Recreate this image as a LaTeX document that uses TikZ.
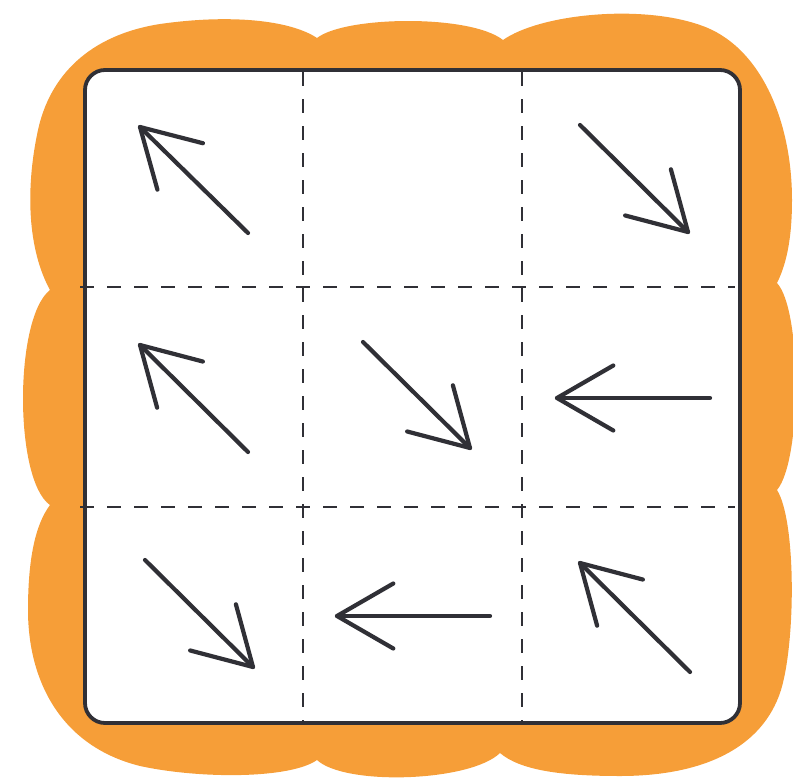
\documentclass[tikz,border=0pt]{standalone}
\usetikzlibrary{calc}
\definecolor{frameorange}{RGB}{246,158,56}
\definecolor{inkgray}{RGB}{48,48,54}
\tikzset{
  gridline/.style={draw=inkgray, line width=2.8pt, dash pattern=on 14pt off 13pt},
  boxborder/.style={draw=inkgray, line width=3.8pt, fill=white, rounded corners=20pt},
  arrowline/.style={draw=inkgray, line width=4.2pt, line cap=round, line join=round},
}
\newcommand{\cellarrow}[2]{%
  \draw[arrowline] ($(#1)!65pt!30:(#2)$) -- (#1) -- ($(#1)!65pt!-30:(#2)$);
  \draw[arrowline] (#1) -- (#2);
}
\begin{document}
\begin{tikzpicture}[x=1pt,y=-1pt]
\useasboundingbox (0,0) rectangle (793,777);
% orange scalloped frame
\fill[frameorange]
  (50,290) .. controls (28,250) and (25,190) .. (38,130)
  .. controls (50,75) and (90,35) .. (160,24)
  .. controls (230,14) and (290,20) .. (317,38)
  .. controls (345,16) and (470,14) .. (503,40)
  .. controls (540,14) and (640,4) .. (700,25)
  .. controls (760,45) and (792,120) .. (792,200)
  .. controls (792,240) and (786,265) .. (777,283)
  .. controls (802,310) and (802,460) .. (777,490)
  .. controls (796,520) and (796,640) .. (781,690)
  .. controls (762,750) and (700,776) .. (620,776)
  .. controls (560,776) and (520,770) .. (500,753)
  .. controls (470,782) and (345,786) .. (317,760)
  .. controls (290,779) and (200,779) .. (140,766)
  .. controls (60,746) and (28,680) .. (28,610)
  .. controls (28,560) and (35,525) .. (50,505)
  .. controls (14,480) and (14,318) .. (50,290) -- cycle;
% inner board
\path[boxborder] (85,70) rectangle (740,723);
% dashed grid
\coordinate (v1t) at (303,72); \coordinate (v1b) at (303,721);
\coordinate (v2t) at (522,72); \coordinate (v2b) at (522,721);
\coordinate (h1l) at (80,287); \coordinate (h1r) at (735,287);
\coordinate (h2l) at (80,507); \coordinate (h2r) at (735,507);
\draw[gridline] (v1t) -- (v1b);
\draw[gridline] (v2t) -- (v2b);
\draw[gridline] (h1l) -- (h1r);
\draw[gridline] (h2l) -- (h2r);
% arrows: tip, tail
\coordinate (a1tip) at (140,127); \coordinate (a1tail) at (248,233);
\coordinate (a3tip) at (688,232); \coordinate (a3tail) at (580,125);
\coordinate (a4tip) at (140,345); \coordinate (a4tail) at (248,452);
\coordinate (a5tip) at (470,448); \coordinate (a5tail) at (363,342);
\coordinate (a6tip) at (557,398); \coordinate (a6tail) at (710,398);
\coordinate (a7tip) at (253,667); \coordinate (a7tail) at (145,560);
\coordinate (a8tip) at (337,616); \coordinate (a8tail) at (490,616);
\coordinate (a9tip) at (580,563); \coordinate (a9tail) at (690,672);
\cellarrow{a1tip}{a1tail}
\cellarrow{a3tip}{a3tail}
\cellarrow{a4tip}{a4tail}
\cellarrow{a5tip}{a5tail}
\cellarrow{a6tip}{a6tail}
\cellarrow{a7tip}{a7tail}
\cellarrow{a8tip}{a8tail}
\cellarrow{a9tip}{a9tail}
\end{tikzpicture}
\end{document}
